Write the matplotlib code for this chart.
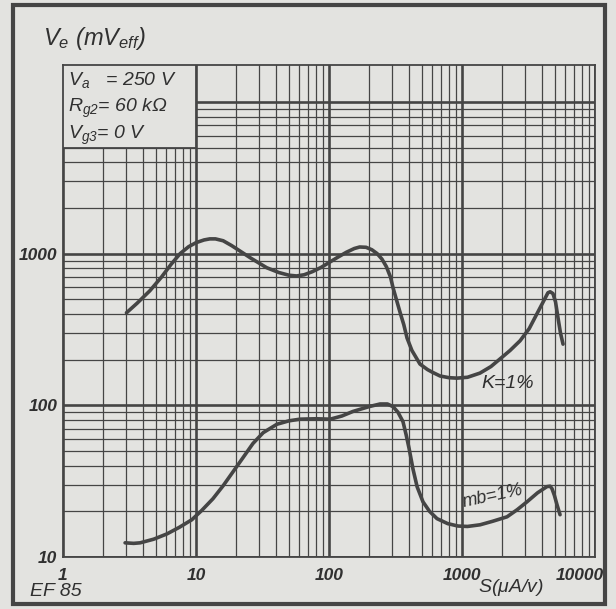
# -*- coding: utf-8 -*-
# EF85 : tension d'entree Ve en fonction de la pente S (K=1% et mb=1%)

import matplotlib
matplotlib.use("Agg")
import matplotlib.pyplot as plt
import matplotlib.transforms as mtransforms
from matplotlib.patches import Rectangle
from matplotlib.ticker import FixedLocator, LogLocator, NullFormatter
import numpy as np

# donnees
S_K = [3.0, 3.6, 4.5, 5.5, 6.5, 7.6, 8.8, 10, 11.5, 12.7, 14, 16, 18.5, 21.4,
       26, 34, 42, 50, 57, 65, 75, 87, 97, 115, 135, 155, 170, 190, 210, 230,
       250, 270, 290, 303, 325, 345, 365, 386, 420, 483, 550, 600, 684, 800,
       917, 1100, 1365, 1650, 1930, 2300, 2730, 3200, 3660, 4050, 4430, 4600,
       4830, 5050, 5270, 5500, 5750]
V_K = [407, 470, 569, 700, 850, 1000, 1110, 1180, 1230, 1250, 1250, 1215,
       1130, 1040, 930, 807, 750, 720, 712, 725, 760, 810, 858, 940, 1020,
       1080, 1105, 1100, 1060, 1000, 920, 820, 700, 596, 480, 400, 340, 278,
       230, 187, 172, 165, 156, 152, 151, 153, 163, 180, 202, 230, 266, 320,
       401, 475, 552, 560, 545, 480, 377, 300, 253]

S_MB = [2.93, 3.4, 3.8, 4.8, 6.05, 7.5, 9.3, 11, 13.4, 16, 19, 22.5, 26.8, 32,
        40.6, 50, 60.5, 80, 102, 125, 151, 200, 242, 275, 303, 330, 360, 380,
        400, 428, 460, 509, 570, 649, 780, 933, 1100, 1366, 1700, 2180, 2600,
        3080, 3700, 4350, 4600, 4750, 4950, 5180, 5460]
V_MB = [12.4, 12.3, 12.4, 13.1, 14.2, 15.7, 17.6, 20.2, 24.2, 29.5, 36.5, 45,
        56, 66, 75, 79, 81, 81.5, 81, 85, 91, 98, 102, 102, 98, 90, 78, 64,
        52, 38, 29, 23.1, 20, 17.9, 16.6, 16.0, 15.9, 16.3, 17.2, 18.4, 20.5,
        23.1, 26.5, 29.1, 29.3, 28.2, 25.5, 22.1, 19.0]

x_ticks = [1, 10, 100, 1000, 10000]
x_labels = ["1", "10", "100", "1000", "10000"]
y_ticks = [10, 100, 1000, 10000]
y_labels = ["10", "100", "1000", ""]

bg = "#e3e3e0"
ink = "#454545"
txt = "#303030"

plt.rcParams['font.family'] = ['Liberation Sans', 'DejaVu Sans']
plt.rcParams['font.style'] = 'italic'
plt.rcParams['mathtext.fontset'] = 'custom'
plt.rcParams['mathtext.it'] = 'Liberation Sans:italic'
plt.rcParams['mathtext.rm'] = 'Liberation Sans:italic'
plt.rcParams['mathtext.default'] = 'it'

W, H = 616, 609
fig = plt.figure(figsize=(W / 100, H / 100), dpi=100, facecolor=bg)
ax = fig.add_axes([63 / W, 1 - 557 / H, (595 - 63) / W, (557 - 65) / H])
ax.set_facecolor(bg)
ax.set_xscale('log')
ax.set_yscale('log')
ax.set_xlim(1, 10000)
ax.set_ylim(10, 17500)

ax.xaxis.set_major_locator(FixedLocator(x_ticks))
ax.xaxis.set_minor_locator(LogLocator(base=10, subs=np.arange(2, 10), numticks=50))
ax.xaxis.set_minor_formatter(NullFormatter())
ax.set_xticklabels(x_labels)
ax.yaxis.set_major_locator(FixedLocator(y_ticks))
ax.yaxis.set_minor_locator(LogLocator(base=10, subs=np.arange(2, 10), numticks=50))
ax.yaxis.set_minor_formatter(NullFormatter())
ax.set_yticklabels(y_labels)

ax.grid(which='major', color=ink, lw=1.9)
ax.grid(which='minor', color=ink, lw=0.9)
ax.tick_params(which='both', length=0, labelsize=12.5, labelcolor=txt)
ax.tick_params(axis='x', pad=8)
ax.tick_params(axis='y', pad=4)
for l in ax.get_xticklabels() + ax.get_yticklabels():
    l.set_fontweight('bold')
for sp in ax.spines.values():
    sp.set_color(ink)
    sp.set_linewidth(1.3)

# le dernier label decale vers la gauche (comme sur l'original)
lab = ax.get_xticklabels()[-1]
lab.set_transform(lab.get_transform() +
                  mtransforms.ScaledTranslation(-0.15, 0, fig.dpi_scale_trans))

# cadre des conditions
ax.add_patch(Rectangle((1, 5000), 9, 17500 - 5000, facecolor=bg,
                       edgecolor=ink, lw=1.3, zorder=3))
fig.text(68 / W, 1 - 80 / H, r"$V_a$   = 250 V", fontsize=14, va='center', color=txt)
fig.text(68 / W, 1 - 108 / H, r"$R_{g2}$= 60 k$\Omega$", fontsize=14, va='center', color=txt)
fig.text(68 / W, 1 - 135 / H, r"$V_{g3}$= 0 V", fontsize=14, va='center', color=txt)

# courbes
ax.plot(S_K, V_K, color=ink, lw=2.6, solid_joinstyle='round',
        solid_capstyle='round', zorder=4)
ax.plot(S_MB, V_MB, color=ink, lw=2.6, solid_joinstyle='round',
        solid_capstyle='round', zorder=4)
ax.text(2200, 140, "K=1%", fontsize=14, ha='center', va='center', color=txt, zorder=5)
ax.text(1700, 25, "mb=1%", fontsize=13, ha='center', va='center', rotation=12,
        color=txt, zorder=5)

# titres
fig.text(43 / W, 1 - 38 / H, r"$V_e$ $(mV_{eff})$", fontsize=17, va='center', color=txt)
fig.text(511 / W, 1 - 587 / H, r"$S(\mu A/v)$", fontsize=14, ha='center', va='center', color=txt)
fig.text(30 / W, 1 - 592 / H, "EF 85", fontsize=14, va='center', color=txt)

# cadre exterieur
fig.add_artist(Rectangle((13 / W, 5 / H), 592 / W, 599 / H, transform=fig.transFigure,
                         fill=False, lw=3, edgecolor=ink))

fig.savefig("out.png", dpi=100, facecolor=bg)
